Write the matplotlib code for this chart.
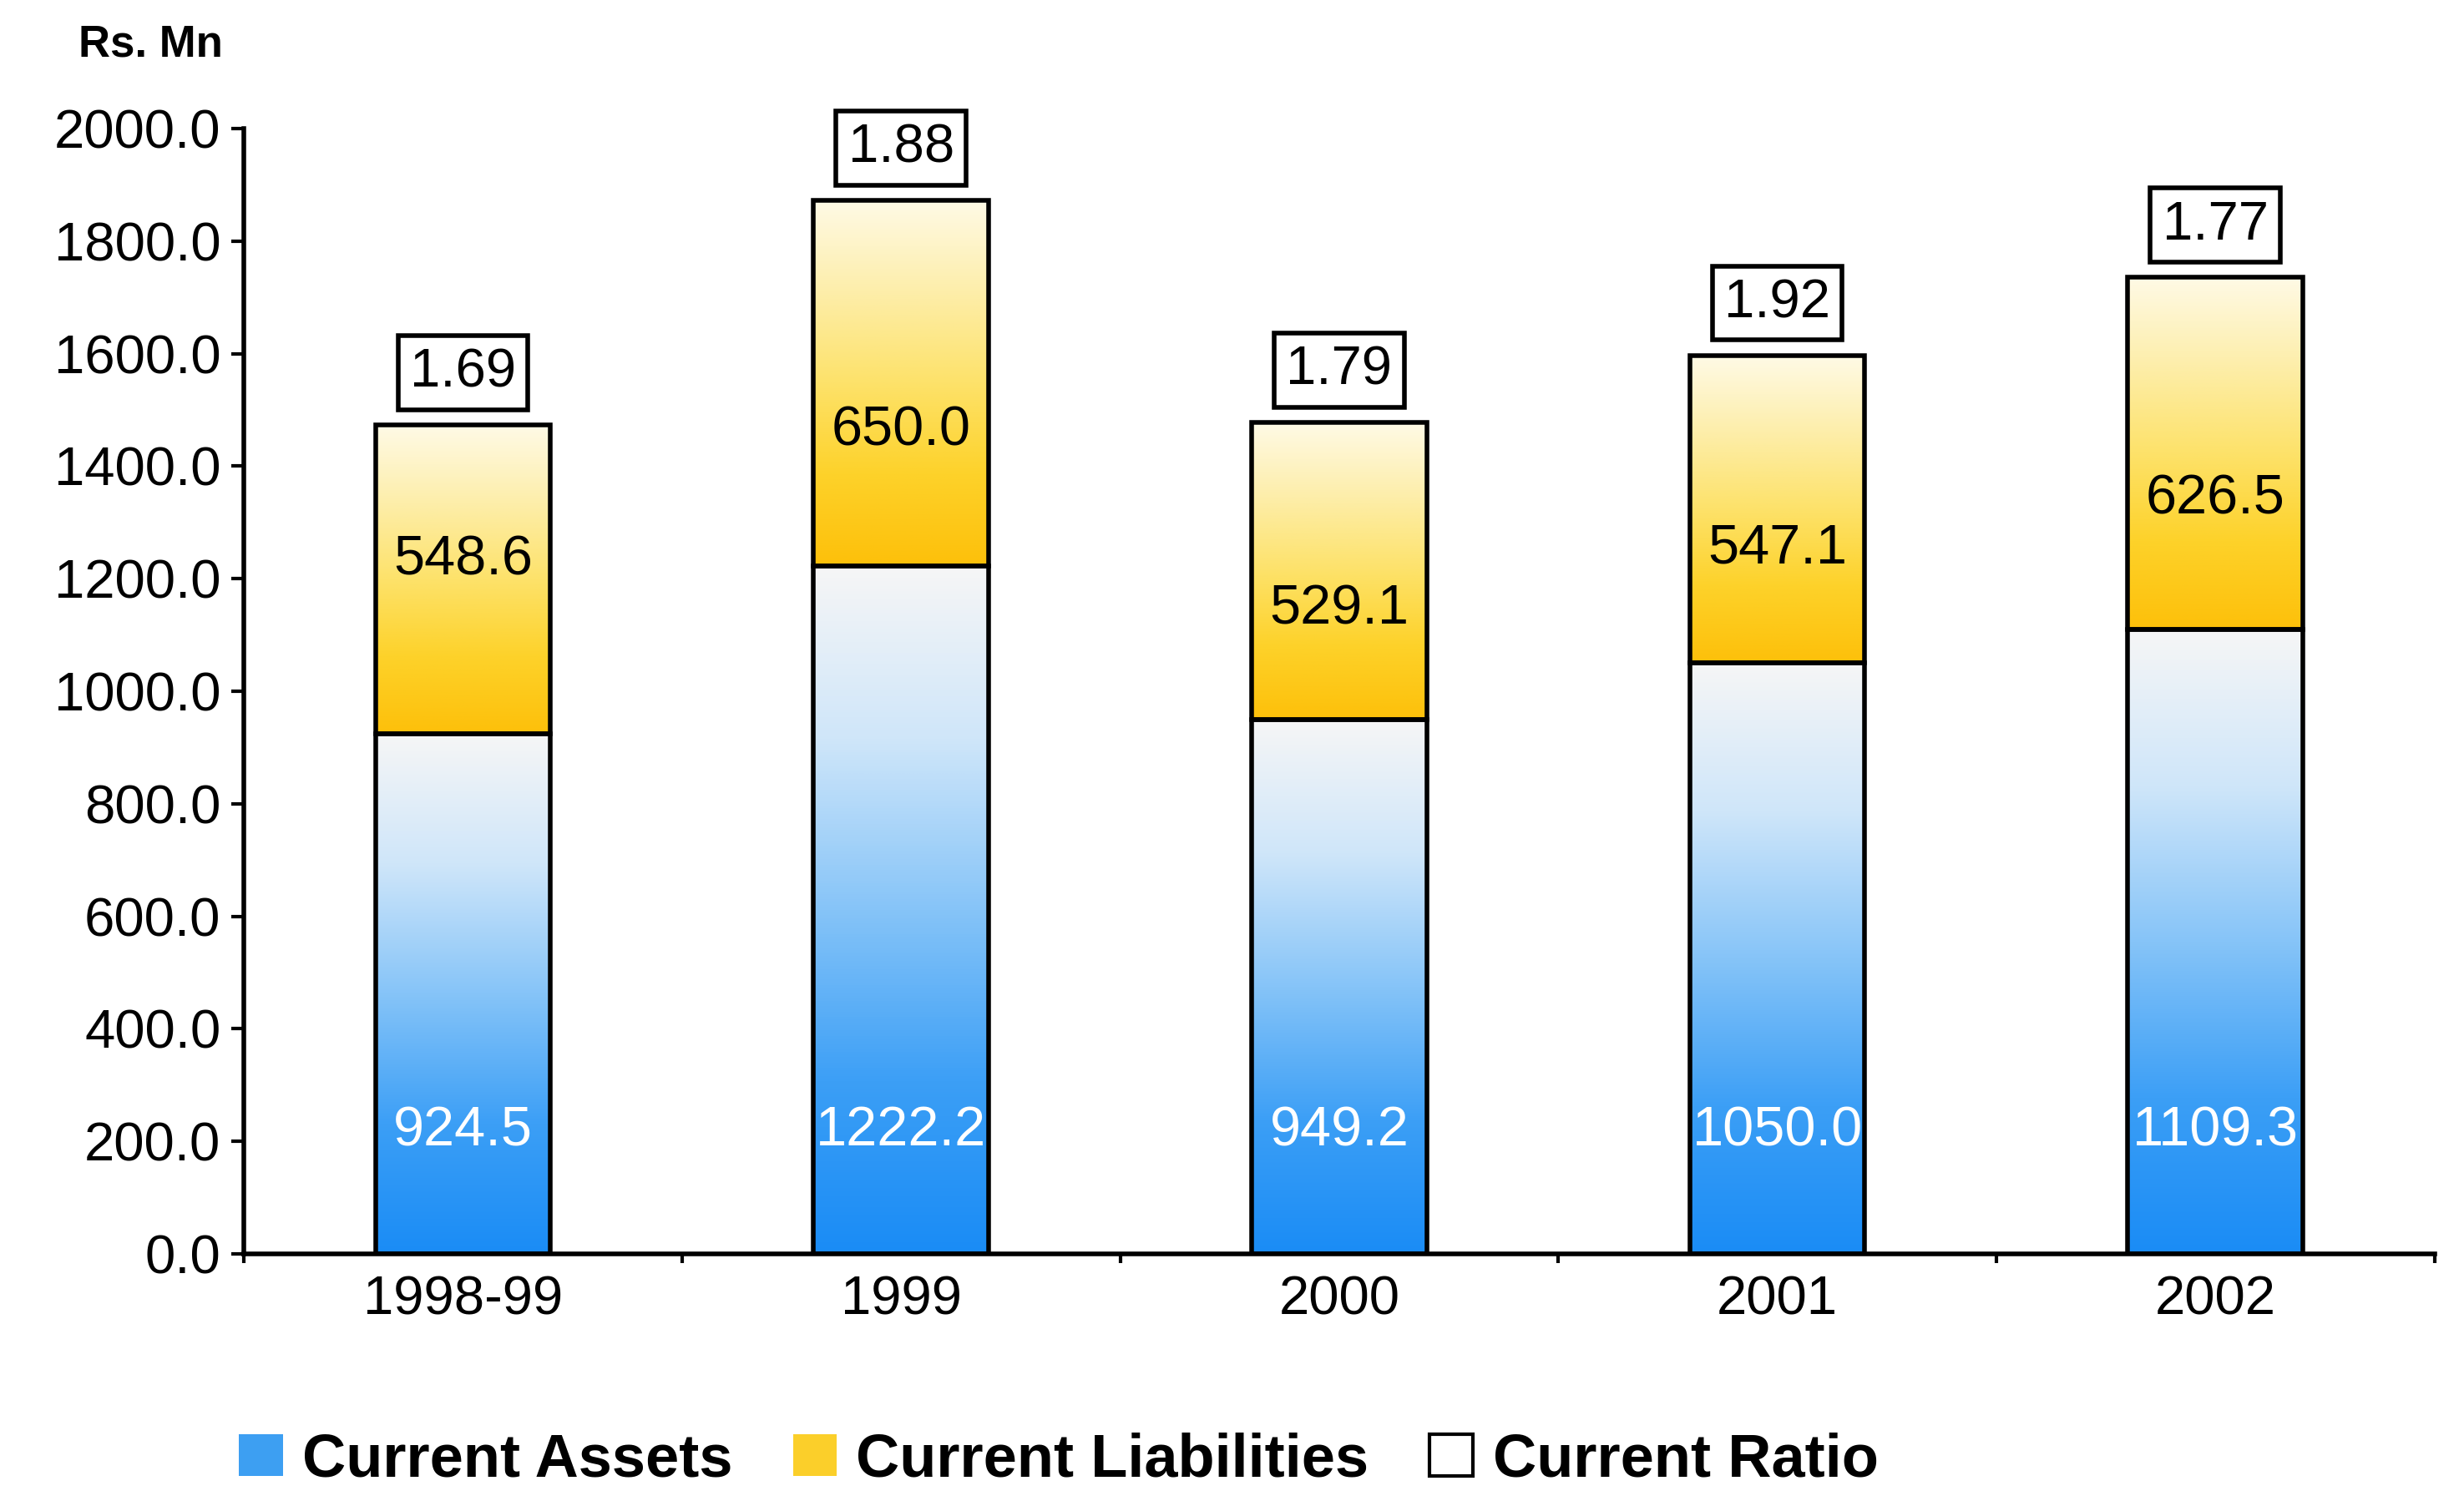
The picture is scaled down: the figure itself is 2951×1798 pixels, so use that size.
import numpy as np
import matplotlib.pyplot as plt
from matplotlib.colors import LinearSegmentedColormap
from matplotlib.patches import Patch
from matplotlib.ticker import FormatStrFormatter

plt.rcParams['font.family'] = ['Liberation Sans', 'DejaVu Sans']

years = ['1998-99', '1999', '2000', '2001', '2002']
assets = [924.5, 1222.2, 949.2, 1050.0, 1109.3]
liabilities = [548.6, 650.0, 529.1, 547.1, 626.5]
ratio = [1.69, 1.88, 1.79, 1.92, 1.77]

# where the liabilities label sits inside its segment (fraction from bottom)
liab_label_frac = [0.56, 0.37, 0.37, 0.37, 0.37]

blue = LinearSegmentedColormap.from_list(
    'blue', ['#1a8cf5', '#3c9ff6', '#86c4f8', '#cfe6fa', '#f6f6f6'])
gold = LinearSegmentedColormap.from_list(
    'gold', ['#fdc00a', '#fdd22a', '#fde26a', '#fdeeaa', '#fffae6'])

fig = plt.figure(figsize=(29.51, 17.98), dpi=100)
ax = fig.add_axes([0.099, 0.1646, 0.889, 0.7497])

x = np.arange(len(years))
w = 0.4

bars_a = ax.bar(x, assets, w, facecolor='none', edgecolor='black',
                linewidth=4, zorder=3)
bars_l = ax.bar(x, liabilities, w, bottom=assets, facecolor='none',
                edgecolor='black', linewidth=4, zorder=3)

grad = np.linspace(0, 1, 256).reshape(-1, 1)


def fill_gradient(bars, cmap):
    for b in bars:
        x0, y0 = b.get_x(), b.get_y()
        ax.imshow(grad, extent=[x0, x0 + b.get_width(), y0, y0 + b.get_height()],
                  origin='lower', aspect='auto', cmap=cmap, zorder=2,
                  interpolation='bicubic')


fill_gradient(bars_a, blue)
fill_gradient(bars_l, gold)

for i in range(len(years)):
    ax.text(x[i], 218, f'{assets[i]:.1f}', color='white', ha='center',
            va='center', fontsize=48, zorder=4)
    ax.text(x[i], assets[i] + liabilities[i] * liab_label_frac[i],
            f'{liabilities[i]:.1f}', color='black', ha='center', va='center',
            fontsize=48, zorder=4)
    ax.annotate(f'{ratio[i]:.2f}', xy=(x[i], assets[i] + liabilities[i]),
                xytext=(0, 45), textcoords='offset points', ha='center',
                va='center', fontsize=47, annotation_clip=False, zorder=5,
                bbox=dict(boxstyle='square,pad=0.22', fc='white', ec='black', lw=4))

ax.set_xlim(-0.5, 4.5)
ax.set_ylim(0, 2000)
ax.set_yticks(np.arange(0, 2001, 200))
ax.yaxis.set_major_formatter(FormatStrFormatter('%.1f'))
ax.set_xticks(x, years)
ax.set_xticks(np.arange(-0.5, 5, 1), minor=True)

for s in ['top', 'right']:
    ax.spines[s].set_visible(False)
for s in ['left', 'bottom']:
    ax.spines[s].set_linewidth(4)

ax.tick_params(axis='x', which='major', length=0, pad=18, labelsize=47)
ax.tick_params(axis='x', which='minor', length=8, width=3, direction='out')
ax.tick_params(axis='y', length=11, width=3, pad=9, labelsize=47)

fig.text(94 / 2951, 1 - 53 / 1798, 'Rs. Mn', fontsize=38, fontweight='bold',
         va='center', ha='left')

handles = [
    Patch(fc='#3d9ff2', ec='none', label='Current Assets'),
    Patch(fc='#fbcf2a', ec='none', label='Current Liabilities'),
    Patch(fc='white', ec='black', lw=3, label='Current Ratio'),
]
fig.legend(handles=handles, loc='center left', bbox_to_anchor=(286 / 2951, 0.027),
           ncol=3, frameon=False, prop={'weight': 'bold', 'size': 52},
           handlelength=0.73, handleheight=0.7, handletextpad=0.32,
           columnspacing=1.0, borderpad=0, borderaxespad=0)

fig.savefig('out.png', dpi=100)
